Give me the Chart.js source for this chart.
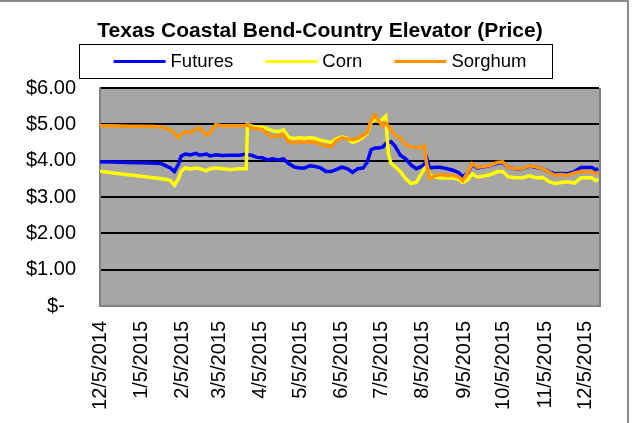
<!DOCTYPE html>
<html><head><meta charset="utf-8">
<script src="https://cdn.jsdelivr.net/npm/chart.js@4/dist/chart.umd.min.js"></script>
<style>html,body{margin:0;padding:0;background:#fff}#wrap{width:632px;height:423px;position:relative}</style>
</head><body><div id="wrap"><canvas id="c" width="632" height="423"></canvas></div>
<script>
const chartTitle = "Texas Coastal Bend-Country Elevator (Price)";
const seriesNames = ["Futures", "Corn", "Sorghum"];
const dates = [
 "2014-12-05","2014-12-15","2014-12-26","2015-01-05","2015-01-16","2015-01-20","2015-01-24","2015-01-27","2015-01-30","2015-02-02",
 "2015-02-04","2015-02-07","2015-02-11","2015-02-15","2015-02-18","2015-02-23","2015-02-26","2015-03-02","2015-03-07","2015-03-13",
 "2015-03-20","2015-03-25","2015-03-26","2015-03-29","2015-04-02","2015-04-06","2015-04-10","2015-04-14","2015-04-18","2015-04-22",
 "2015-04-26","2015-04-30","2015-05-04","2015-05-08","2015-05-12","2015-05-16","2015-05-20","2015-05-24","2015-05-28","2015-06-01",
 "2015-06-05","2015-06-09","2015-06-13","2015-06-17","2015-06-21","2015-06-24","2015-06-27","2015-06-30","2015-07-03","2015-07-06",
 "2015-07-08","2015-07-10","2015-07-12","2015-07-15","2015-07-19","2015-07-23","2015-07-27","2015-07-31","2015-08-04","2015-08-06",
 "2015-08-08","2015-08-10","2015-08-14","2015-08-18","2015-08-23","2015-08-28","2015-09-01","2015-09-04","2015-09-08","2015-09-11",
 "2015-09-15","2015-09-20","2015-09-25","2015-09-30","2015-10-04","2015-10-08","2015-10-13","2015-10-19","2015-10-24","2015-10-29",
 "2015-11-03","2015-11-08","2015-11-12","2015-11-17","2015-11-22","2015-11-27","2015-12-02","2015-12-06","2015-12-10","2015-12-13",
 "2015-12-15"
];
const futures = [
 3.97,3.96,3.95,3.94,3.93,3.92,3.85,3.80,3.70,3.90,
 4.12,4.18,4.16,4.20,4.15,4.18,4.13,4.16,4.14,4.15,
 4.15,4.18,4.16,4.15,4.09,4.08,4.02,4.05,4.02,4.05,
 3.92,3.83,3.80,3.80,3.86,3.84,3.80,3.70,3.70,3.76,
 3.82,3.78,3.68,3.78,3.80,3.95,4.30,4.35,4.35,4.38,
 4.47,4.50,4.52,4.40,4.15,4.05,3.88,3.78,3.84,3.90,
 4.05,3.80,3.82,3.82,3.78,3.73,3.67,3.55,3.68,3.90,
 3.80,3.83,3.87,3.93,3.95,3.82,3.78,3.78,3.85,3.82,
 3.78,3.69,3.64,3.65,3.64,3.70,3.81,3.81,3.81,3.75,
 3.78
];
const corn = [
 3.71,3.66,3.61,3.57,3.52,3.50,3.48,3.45,3.32,3.50,
 3.70,3.80,3.77,3.80,3.78,3.72,3.78,3.80,3.78,3.76,
 3.78,3.78,5.00,4.95,4.92,4.92,4.88,4.82,4.80,4.85,
 4.64,4.61,4.63,4.61,4.64,4.61,4.56,4.53,4.50,4.60,
 4.65,4.62,4.50,4.56,4.65,4.74,5.05,5.15,5.08,5.15,
 5.22,4.20,3.92,3.84,3.70,3.51,3.37,3.40,3.65,3.78,
 3.85,3.60,3.55,3.53,3.52,3.52,3.48,3.40,3.48,3.64,
 3.55,3.58,3.62,3.70,3.70,3.56,3.53,3.53,3.58,3.53,
 3.54,3.42,3.37,3.40,3.42,3.38,3.53,3.53,3.53,3.45,
 3.50
];
const sorghum = [
 4.96,4.96,4.95,4.95,4.94,4.93,4.88,4.85,4.75,4.63,
 4.72,4.80,4.77,4.86,4.90,4.71,4.77,4.99,4.96,4.96,
 4.96,4.97,5.00,4.90,4.88,4.86,4.72,4.66,4.68,4.71,
 4.52,4.49,4.52,4.50,4.52,4.50,4.45,4.41,4.38,4.55,
 4.63,4.60,4.58,4.62,4.70,4.78,5.10,5.26,5.08,4.96,
 5.04,4.95,4.85,4.70,4.63,4.44,4.38,4.36,4.36,4.41,
 3.85,3.51,3.58,3.62,3.59,3.59,3.55,3.45,3.70,3.92,
 3.82,3.84,3.88,3.95,3.97,3.82,3.78,3.78,3.86,3.83,
 3.78,3.68,3.60,3.62,3.60,3.66,3.70,3.70,3.70,3.64,
 3.66
];
const xTickLabels = ["12/5/2014","1/5/2015","2/5/2015","3/5/2015","4/5/2015","5/5/2015","6/5/2015","7/5/2015","8/5/2015","9/5/2015","10/5/2015","11/5/2015","12/5/2015"];
const yTickLabels = ["$-  ","$1.00","$2.00","$3.00","$4.00","$5.00","$6.00"];
const seriesColors = ["#0000FF", "#FFFF00", "#FF9300"];

const FONT = "'Liberation Sans', Arial, sans-serif";
const DAY = 86400000;
const startMs = Date.UTC(2014, 11, 5);
function isoDay(s) { const p = s.split("-").map(Number); return (Date.UTC(p[0], p[1]-1, p[2]) - startMs) / DAY; }
function mdyDay(s) { const p = s.split("/").map(Number); return (Date.UTC(p[2], p[0]-1, p[1]) - startMs) / DAY; }
const xTickDays = xTickLabels.map(mdyDay);

function pts(vals) { return dates.map((d, i) => ({ x: isoDay(d), y: vals[i] })); }
const seriesValues = [futures, corn, sorghum];

const frame = {
  id: 'frame',
  beforeDraw(chart) {
    const { ctx, chartArea: a } = chart;
    ctx.save();
    ctx.fillStyle = '#A6A6A6';
    ctx.fillRect(a.left, a.top, a.right - a.left, a.bottom - a.top);
    ctx.restore();
  },
  afterDraw(chart) {
    const { ctx, chartArea: a } = chart;
    ctx.save();
    ctx.strokeStyle = '#808080'; ctx.lineWidth = 2;
    ctx.beginPath(); ctx.moveTo(a.right + 1, a.top); ctx.lineTo(a.right + 1, a.bottom + 1); ctx.stroke();
    ctx.strokeStyle = '#8C8C8C'; ctx.lineWidth = 2;
    ctx.strokeRect(-1, 1, 629, 440);
    ctx.fillStyle = '#000';
    ctx.font = "bold 21px " + FONT;
    ctx.textAlign = 'center'; ctx.textBaseline = 'middle';
    ctx.fillText(chartTitle, 320, 31);
    ctx.lineWidth = 1; ctx.strokeStyle = '#000';
    ctx.strokeRect(79.5, 44.5, 473, 34);
    ctx.font = "18.5px " + FONT;
    ctx.textAlign = 'left';
    const lineLen = 52, gapTxt = 5, gap = 32;
    const widths = seriesNames.map(n => lineLen + gapTxt + ctx.measureText(n).width);
    const total = widths.reduce((s, w) => s + w, 0) + gap * (seriesNames.length - 1);
    let x = 320 - total / 2;
    const y = 61.5;
    seriesNames.forEach((n, i) => {
      ctx.strokeStyle = seriesColors[i]; ctx.lineWidth = 3;
      ctx.beginPath(); ctx.moveTo(x, y); ctx.lineTo(x + lineLen, y); ctx.stroke();
      ctx.fillStyle = '#000';
      ctx.fillText(n, x + lineLen + gapTxt, y);
      x += widths[i] + gap;
    });
    ctx.restore();
  }
};

new Chart(document.getElementById('c'), {
  type: 'line',
  data: {
    datasets: seriesNames.map((n, i) => ({
      label: n,
      data: pts(seriesValues[i]),
      borderColor: seriesColors[i],
      backgroundColor: seriesColors[i],
      borderWidth: 3.5,
      pointRadius: 0,
      tension: 0,
      fill: false,
      order: 2 - i
    }))
  },
  options: {
    responsive: false,
    animation: false,
    devicePixelRatio: 1,
    layout: { padding: { left: 0, right: 33, top: 88, bottom: 0 } },
    plugins: { legend: { display: false }, title: { display: false }, tooltip: { enabled: false } },
    scales: {
      x: {
        type: 'linear', min: 0, max: 375.5,
        afterBuildTicks(scale) { scale.ticks = xTickDays.map(v => ({ value: v })); },
        afterFit(scale) { scale.height = 117; },
        ticks: {
          autoSkip: false, minRotation: 90, maxRotation: 90, padding: 15,
          color: '#000', font: { family: FONT, size: 20 },
          callback(v) { const k = xTickDays.indexOf(v); return k >= 0 ? xTickLabels[k] : ''; }
        },
        grid: { display: false, drawTicks: false },
        border: { display: true, color: '#808080', width: 2 }
      },
      y: {
        min: 0, max: 6,
        afterFit(scale) { scale.width = 100; },
        ticks: {
          stepSize: 1, padding: 24, color: '#000', font: { family: FONT, size: 20 },
          callback(v) { return yTickLabels[v]; }
        },
        grid: {
          drawTicks: false, lineWidth: 2,
          color(c) { return c.tick && c.tick.value === 0 ? '#808080' : '#000'; }
        },
        border: { display: true, color: '#808080', width: 2 }
      }
    }
  },
  plugins: [frame]
});
</script>
</body></html>
